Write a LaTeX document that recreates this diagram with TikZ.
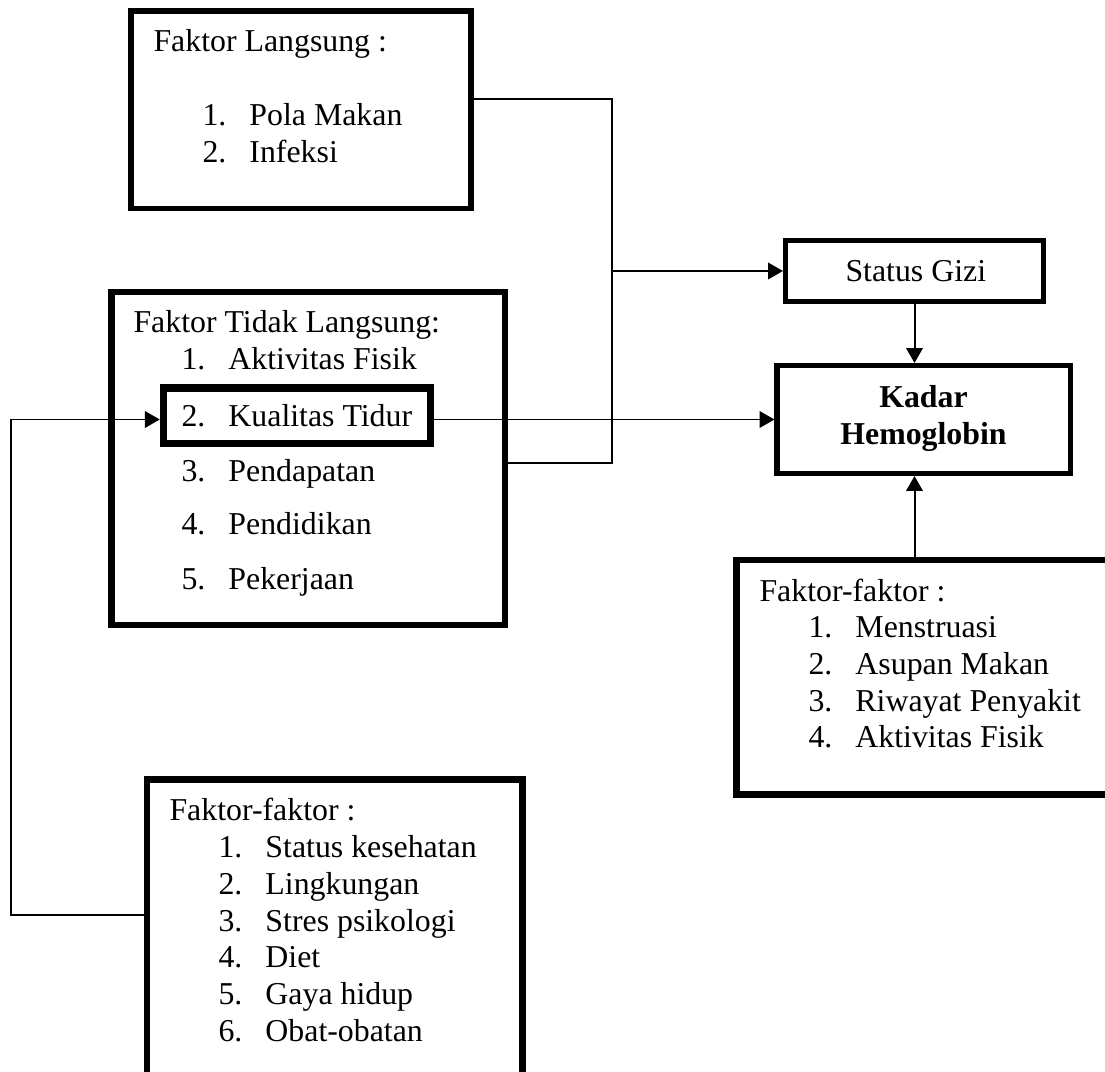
\documentclass[tikz,border=0pt]{standalone}
\usepackage{fontspec}
\setmainfont{Liberation Serif}
\usepackage{tikz}
\usetikzlibrary{positioning,fit,arrows.meta}

\tikzset{
  kotak/.style={draw, line width=2.1pt, inner sep=0pt},
  garis/.style={line width=0.75pt},
  panah/.style={garis, -{Triangle[length=5.6pt,width=6.2pt]}},
  teks/.style={anchor=base west, inner sep=0pt, font=\fontsize{12}{14}\selectfont},
  tebal/.style={anchor=base, inner sep=0pt, font=\fontsize{12}{14}\selectfont\bfseries},
}
\newcommand{\butir}[2]{\makebox[17.7pt][l]{#1.}#2}

\begin{document}
\begin{tikzpicture}[x=0.377pt, y=-0.377pt]
\useasboundingbox (0,0) rectangle (1105,1072);

% kotak
\node[kotak, fit={(131,11) (471,208.5)}] (langsung) {};
\node[kotak, line width=2.4pt, fit={(111.5,292) (505,625)}] (tidak) {};
\node[kotak, line width=2.8pt, fit={(163.5,388) (430.5,443.5)}] (tidur) {};
\node[kotak, line width=1.9pt, fit={(785.5,240.5) (1043.5,301.5)}] (gizi) {};
\node[kotak, line width=1.9pt, fit={(777,365.5) (1070.5,473.5)}] (kadar) {};
\node[kotak, line width=2.3pt, fit={(736.5,560) (1130,794.5)}] (kanan) {};
\node[kotak, line width=2.4pt, fit={(147,779.5) (522.5,1100)}] (bawah) {};

% faktor langsung
\node[teks] (judulA) at (153,52) {Faktor Langsung :};
\foreach \n/\isi/\y in {1/Pola Makan/126, 2/Infeksi/163}
  \node[teks] (a\n) at (202,\y) {\butir{\n}{\isi}};

% faktor tidak langsung
\node[teks] (judulB) at (133,333) {Faktor Tidak Langsung:};
\foreach \n/\isi/\y in {1/Aktivitas Fisik/370, 2/Kualitas Tidur/427, 3/Pendapatan/482,
                        4/Pendidikan/535, 5/Pekerjaan/590}
  \node[teks] (b\n) at (181,\y) {\butir{\n}{\isi}};

% status gizi dan kadar hemoglobin
\node[teks] (teksgizi) at (845,282) {Status Gizi};
\node[tebal] (kadar1) at (923.5,408) {Kadar};
\node[tebal] (kadar2) at (923.5,445) {Hemoglobin};

% faktor-faktor kanan
\node[teks] (judulR) at (759,602) {Faktor-faktor :};
\foreach \n/\isi/\y in {1/Menstruasi/638, 2/Asupan Makan/675, 3/Riwayat Penyakit/712,
                        4/Aktivitas Fisik/748}
  \node[teks] (r\n) at (808,\y) {\butir{\n}{\isi}};

% faktor-faktor bawah
\node[teks] (judulL) at (169,821) {Faktor-faktor :};
\foreach \n/\isi/\y in {1/Status kesehatan/858, 2/Lingkungan/895, 3/Stres psikologi/932,
                        4/Diet/968, 5/Gaya hidup/1005, 6/Obat-obatan/1042}
  \node[teks] (l\n) at (218,\y) {\butir{\n}{\isi}};

% garis penghubung
\coordinate (atas) at (612,99);
\coordinate (bawahB) at (612,463);
\coordinate (cabang) at (612,271);
\coordinate (kiri) at (11,915);
\draw[garis] (langsung.east |- atas) -- (atas) -- (bawahB) -- (tidak.east |- bawahB);
\draw[panah] (cabang) -- (gizi.west);
\draw[panah] (tidur.east |- kadar.west) -- (kadar.west);
\draw[panah] (bawah.west |- kiri) -- (kiri) |- (tidur.west |- kadar.west);
\draw[panah] (gizi.south) -- (gizi.south |- kadar.north);
\draw[panah] (kanan.north -| gizi.south) -- (gizi.south |- kadar.south);
\end{tikzpicture}
\end{document}
